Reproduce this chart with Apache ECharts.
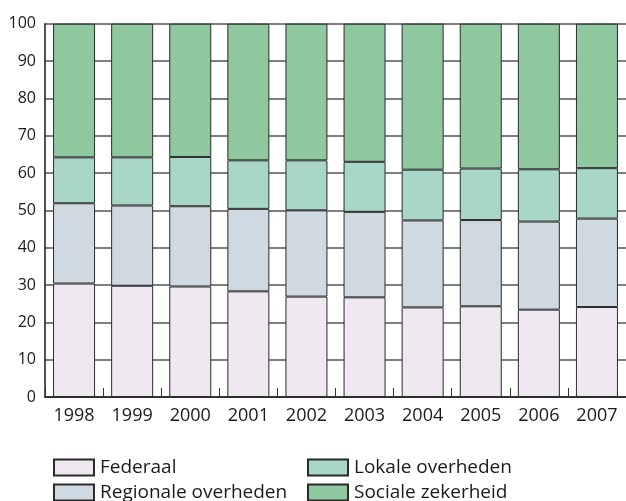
<!DOCTYPE html>
<html>
<head>
<meta charset="utf-8">
<script src="https://cdn.jsdelivr.net/npm/echarts@6/dist/echarts.min.js"></script>
<style>html,body{margin:0;padding:0;background:#fff;}#c{width:626px;height:501px;}</style>
</head>
<body>
<div id="c"></div>
<script>
const years = ['1998','1999','2000','2001','2002','2003','2004','2005','2006','2007'];
const federaal = [30.4, 29.8, 29.6, 28.3, 26.9, 26.7, 24.0, 24.3, 23.4, 24.1];
const regionale = [21.5, 21.5, 21.5, 22.1, 23.1, 22.9, 23.3, 23.1, 23.6, 23.7];
const lokale = [12.3, 12.9, 13.2, 13.0, 13.4, 13.4, 13.6, 13.8, 14.0, 13.5];
const sociale = [35.8, 35.8, 35.7, 36.6, 36.6, 37.0, 39.1, 38.8, 39.0, 38.7];
const yTicks = [0,10,20,30,40,50,60,70,80,90,100];

const names = ['Federaal','Regionale overheden','Lokale overheden','Sociale zekerheid'];
const colors = ['#efe8f1','#cfd9e2','#a8d6c7','#8fc79f'];
const dataSets = [federaal, regionale, lokale, sociale];
const font = 'Open Sans';
const legendPos = [[53, 458], [53, 483], [307, 458], [307, 483]];

const chart = echarts.init(document.getElementById('c'), null, {renderer:'canvas'});
chart.setOption({
  animation: false,
  backgroundColor: '#ffffff',
  textStyle: {fontFamily: font, color: '#1a1a1a'},
  grid: {left: 45, right: -5, top: 23.7, bottom: 104, containLabel: false},
  legend: names.map((n, i) => ({
    data: [n], left: legendPos[i][0], top: legendPos[i][1], itemWidth: 40, itemHeight: 16, icon: 'rect',
    textStyle: {fontFamily: font, fontSize: 19, color: '#1a1a1a', padding: [0,0,0,1]}, padding: 0, selectedMode: false
  })),
  xAxis: {
    type: 'category', data: years,
    axisLine: {show: true, lineStyle: {color: '#1a1a1a', width: 1.5}},
    axisTick: {show: true, inside: true, length: 9, interval: 0, lineStyle: {color: '#333', width: 1}},
    axisLabel: {fontFamily: font, fontSize: 18, color: '#1a1a1a', margin: 10},
    splitLine: {show: false}
  },
  yAxis: {
    type: 'value', min: 0, max: 100, interval: 10,
    axisLine: {show: true, lineStyle: {color: '#1a1a1a', width: 1.5}},
    axisTick: {show: false},
    axisLabel: {fontFamily: font, fontSize: 16, color: '#1a1a1a', margin: 9,
      formatter: v => yTicks.includes(v) ? String(v) : ''},
    splitLine: {show: true, lineStyle: {color: '#555', width: 1.5}}
  },
  series: names.map((n, i) => ({
    name: n, type: 'bar', stack: 'total', data: dataSets[i], barWidth: 42,
    itemStyle: {color: colors[i], borderColor: '#2a2a2a', borderWidth: 1}
  }))
});
</script>
</body>
</html>
